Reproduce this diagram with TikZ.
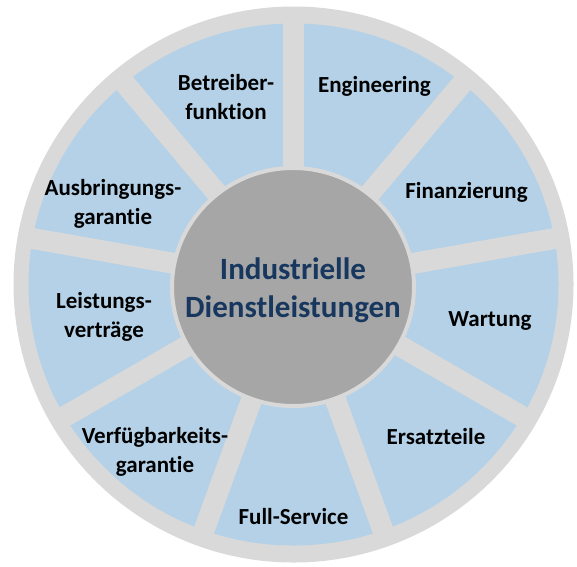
\documentclass[tikz,border=0pt]{standalone}
\usepackage{fontspec}
\setmainfont{Carlito}[Ligatures={NoCommon,NoDiscretionary,NoContextual}]
\definecolor{ringgray}{RGB}{217,217,217}
\definecolor{segblue}{RGB}{180,209,231}
\definecolor{hubgray}{RGB}{166,166,166}
\definecolor{hubtext}{RGB}{23,55,94}
\begin{document}
\begin{tikzpicture}[x=1pt,y=-1pt,
  seglabel/.style={align=center,inner sep=0pt,text=black,
    font=\fontsize{23}{29}\selectfont\bfseries},
  hublabel/.style={align=center,inner sep=0pt,text=hubtext,
    font=\fontsize{31}{38}\selectfont\bfseries},
  divider/.style={ringgray,line width=21pt}]
\useasboundingbox (0,0) rectangle (577,566);
\coordinate (c) at (293.5,284.5);
% outer ring and the blue disc of segments
\fill[ringgray] (c) ellipse [x radius=280,y radius=278];
\fill[segblue] (c) ellipse [x radius=265,y radius=261];
% gray spokes separating the nine segments
\foreach \a in {90,50,10,-30,-70,-110,-150,-190,-230}
  \draw[divider] (c) -- ++(-\a:271);
% hub
\fill[hubgray,draw=ringgray,line width=4pt] (293,287) ellipse [x radius=121,y radius=119];
\node[hublabel] (hub) at (293,290) {Industrielle\\Dienstleistungen};
% segment labels
\node[seglabel] (betreiber) at (226,97) {Betreiber-\\funktion};
\node[seglabel] (engineering) at (374.5,86) {Engineering};
\node[seglabel] (finanz) at (466.5,192) {Finanzierung};
\node[seglabel] (wartung) at (490,321) {Wartung};
\node[seglabel] (ersatz) at (436,437) {Ersatzteile};
\node[seglabel] (fullservice) at (293.5,516.5) {Full-Service};
\node[seglabel] (verfueg) at (155,452) {Verfügbarkeits-\\garantie};
\node[seglabel] (leistung) at (104,317) {Leistungs-\\verträge};
\node[seglabel] (ausbring) at (113,204) {Ausbringungs-\\garantie};
\end{tikzpicture}
\end{document}
